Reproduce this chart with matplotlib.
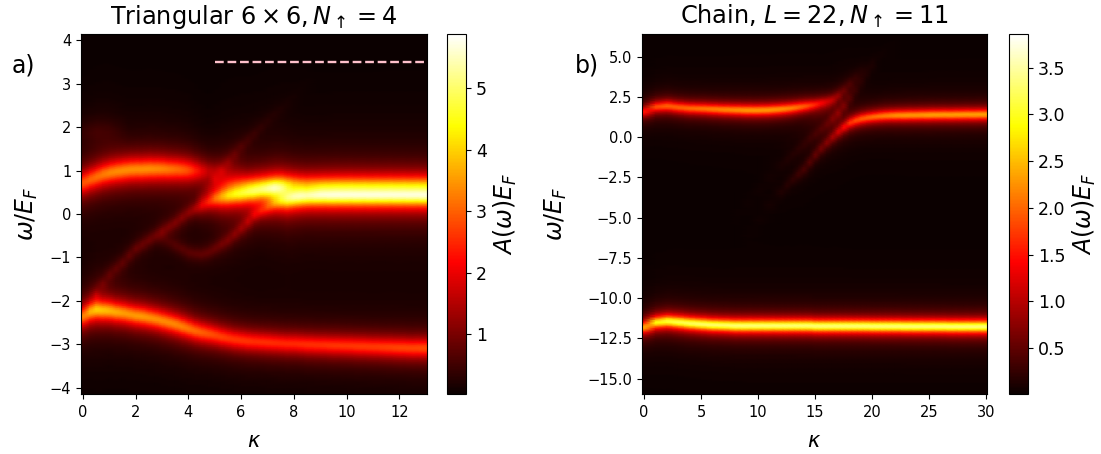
#!/usr/bin/env python3
import numpy as np
import matplotlib
matplotlib.use('Agg')
import matplotlib.pyplot as plt

nan = float('nan')

# The image cells are rebuilt from them with a Lorentzian lineshape in omega,
# so the cells are an approximation of the original, not read one by one.
KAPPA_A = [0, 0.25, 0.5, 0.75, 1, 1.25, 1.5, 1.75, 2, 2.25, 2.5, 2.75, 3, 3.25, 3.5, 3.75, 4, 4.25, 4.5, 4.75,
           5, 5.25, 5.5, 5.75, 6, 6.25, 6.5, 6.75, 7, 7.25, 7.5, 7.75, 8, 8.25, 8.5,
           9, 9.5, 10, 10.5, 11, 11.5, 12, 12.5, 13]

lower_w = [-2.35, -2.25, -2.2, -2.21, -2.22, -2.25, -2.27, -2.3, -2.33, -2.35, -2.38, -2.41, -2.45, -2.49, -2.53,
           -2.58, -2.63, -2.68, -2.72, -2.75, -2.78, -2.82, -2.85, -2.88, -2.9, -2.92, -2.93, -2.94, -2.95, -2.96,
           -2.97, -2.98, -2.98, -2.99, -3.0, -3.01, -3.02, -3.03, -3.04, -3.05, -3.06, -3.07, -3.08, -3.08]
lower_a = [3.3, 3.7, 3.9, 3.85, 3.75, 3.65, 3.55, 3.5, 3.5, 3.5, 3.45, 3.42, 3.4, 3.38, 3.35,
           3.3, 3.2, 3.1, 3.0, 2.9, 2.8, 2.72, 2.65, 2.62, 2.6, 2.58, 2.55, 2.55, 2.55, 2.52,
           2.5, 2.5, 2.5, 2.52, 2.55, 2.55, 2.6, 2.6, 2.65, 2.65, 2.7, 2.75, 2.75, 2.8]

upper_w = [0.72, 0.79, 0.85, 0.91, 0.95, 0.98, 1.0, 1.02, 1.03, 1.03, 1.04, 1.04, 1.04, 1.03, 1.03, 1.02, 1.01,
           1.0, 0.99, 0.99, 0.99, 1.0, 1.0, 1.0, 1.0] + [nan] * 19
upper_a = [2.9, 3.0, 3.1, 3.2, 3.3, 3.35, 3.4, 3.4, 3.4, 3.4, 3.4, 3.35, 3.3, 3.2, 3.1, 3.0, 2.8,
           2.4, 1.9, 1.4, 1.0, 0.7, 0.45, 0.3, 0.15] + [nan] * 19

steep_w = [nan] * 18 + [0.4, 0.6, 0.8, 1.0, 1.2, 1.38, 1.55, 1.7, 1.85, 2.0, 2.15, 2.28, 2.4, 2.55, 2.7, 2.85, 3.0] + [nan] * 9
steep_a = [nan] * 18 + [0.2, 0.35, 0.45, 0.5, 0.5, 0.45, 0.38, 0.32, 0.27, 0.22, 0.18, 0.14, 0.11, 0.08, 0.06, 0.04, 0.03] + [nan] * 9

rising_w = [nan, nan, -1.85, -1.6, -1.4, -1.25, -1.12, -0.95, -0.8, -0.7, -0.6, -0.5, -0.4, -0.3, -0.2, -0.08, 0.03,
            0.12, 0.2, 0.28, 0.35, 0.39, 0.42, 0.45, 0.47, 0.5, 0.52, 0.55, 0.57, 0.59, 0.6, 0.61, 0.62, 0.62] + [nan] * 10
rising_a = [nan, nan, 0.4, 0.45, 0.5, 0.55, 0.6, 0.65, 0.7, 0.72, 0.75, 0.78, 0.8, 0.82, 0.85, 0.9, 0.95,
            1.2, 1.7, 2.2, 2.8, 3.3, 3.7, 3.9, 4.0, 4.1, 4.1, 4.0, 4.0, 3.9, 3.2, 1.8, 0.7, 0.3] + [nan] * 10
rising_g = [0.16] * 18 + [0.18, 0.2, 0.22] + [0.24] * 23

arc_w = [nan] * 12 + [-0.55, -0.64, -0.72, -0.8, -0.88, -0.91, -0.92, -0.88, -0.8, -0.7, -0.6, -0.47, -0.33,
                      -0.18, -0.02, 0.07, 0.15, 0.24, 0.3, 0.34, 0.38, 0.4, 0.41, 0.42, 0.42, 0.42, 0.42, 0.42, 0.42,
                      0.42, 0.42, 0.42]
arc_a = [nan] * 12 + [0.25, 0.35, 0.48, 0.55, 0.6, 0.62, 0.65, 0.68, 0.7, 0.75, 0.8, 0.85, 0.95, 1.1, 1.25, 1.45, 1.7,
                      2.1, 2.8, 3.8, 4.5, 4.65, 4.7, 4.7, 4.7, 4.7, 4.7, 4.7, 4.7, 4.7, 4.7, 4.7]
arc_g = [0.16] * 28 + [0.18, 0.2, 0.22] + [0.24] * 13

top_w = [nan] * 20 + [0.7, 0.7, 0.7, 0.7, 0.7, 0.7, 0.7, 0.7, 0.7, 0.7, 0.72, 0.72, 0.72, 0.7, 0.7,
                      0.68, 0.68, 0.68, 0.68, 0.68, 0.68, 0.68, 0.68, 0.68]
top_a = [nan] * 20 + [0.3, 0.5, 0.8, 0.95, 1.1, 1.15, 1.2, 1.25, 1.3, 1.35, 1.4, 1.5, 1.6, 1.65, 1.7,
                      1.9, 2.0, 2.0, 2.0, 2.0, 2.0, 2.0, 2.0, 2.0]

ghost_w = [1.9, 1.9, 1.9, 1.9, 1.9, 1.9, 1.9] + [nan] * 37
ghost_a = [0.25, 0.3, 0.33, 0.3, 0.25, 0.17, 0.08] + [nan] * 37

KAPPA_B = [0, 1, 2, 3, 4, 5, 6, 7, 8, 9, 10, 11, 12, 12.5, 13, 13.5, 14, 14.5, 15, 15.5, 16, 16.5, 17, 17.5,
           18, 18.5, 19, 19.5, 20, 20.5, 21, 21.5, 22, 23, 24, 25, 26, 27, 28, 29, 30]

deep_w = [-11.8, -11.5, -11.42, -11.48, -11.55, -11.6, -11.65, -11.67, -11.7, -11.7, -11.7, -11.7, -11.7, -11.7,
          -11.7, -11.7, -11.7, -11.7, -11.72, -11.72, -11.72, -11.72, -11.72, -11.72, -11.72, -11.72, -11.72, -11.72,
          -11.73, -11.73, -11.73, -11.73, -11.73, -11.74, -11.74, -11.74, -11.74, -11.75, -11.75, -11.75, -11.75]
deep_a = [2.4, 2.9, 3.1, 3.2, 3.25, 3.3, 3.3, 3.3, 3.35, 3.35, 3.35, 3.35, 3.35, 3.35,
          3.35, 3.35, 3.35, 3.35, 3.35, 3.35, 3.35, 3.35, 3.35, 3.35, 3.35, 3.35, 3.35, 3.35,
          3.35, 3.35, 3.35, 3.35, 3.35, 3.35, 3.35, 3.35, 3.35, 3.35, 3.35, 3.35, 3.35]

left_w = [1.59, 1.88, 1.94, 1.86, 1.8, 1.78, 1.75, 1.72, 1.7, 1.68, 1.68, 1.7, 1.75, 1.78, 1.82, 1.87, 1.92, 1.97,
          2.03, 2.12, 2.22, 2.35, 2.55, 2.85, 3.3, 3.8, 4.3] + [nan] * 14
left_a = [1.55, 1.85, 2.0, 2.0, 2.05, 2.1, 2.15, 2.2, 2.25, 2.3, 2.3, 2.3, 2.25, 2.2, 2.15, 2.05, 1.95, 1.8,
          1.6, 1.35, 1.05, 0.75, 0.45, 0.25, 0.15, 0.08, 0.04] + [nan] * 14

right_w = [nan] * 9 + [-6.1, -5.15, -4.2, -3.4, -3.0, -2.65, -2.3, -2.0, -1.55, -1.1, -0.7, -0.35, 0, 0.33, 0.62, 0.88,
                       1.03, 1.14, 1.21, 1.26, 1.3, 1.33, 1.35, 1.36, 1.37, 1.38, 1.39, 1.4, 1.4, 1.41, 1.41, 1.42]
right_a = [nan] * 9 + [0.02, 0.04, 0.07, 0.12, 0.16, 0.2, 0.28, 0.35, 0.42, 0.5, 0.58, 0.68, 0.85, 1.1, 1.4, 1.7,
                       1.85, 1.95, 2.0, 2.05, 2.1, 2.15, 2.2, 2.25, 2.3, 2.3, 2.35, 2.35, 2.35, 2.35, 2.35, 2.35]

streak1_w = [nan] * 8 + [-4.9, -4.1, -3.3, -2.5, -1.75, -1.4, -1.1, -0.75, -0.45, -0.1, 0.2, 0.5, 0.8, 1.15, 1.5, 1.95,
                         2.45, 2.95, 3.45, 3.9, 4.4] + [nan] * 12
streak1_a = [nan] * 8 + [0.02, 0.03, 0.04, 0.06, 0.08, 0.1, 0.12, 0.15, 0.18, 0.22, 0.27, 0.32, 0.4, 0.55, 0.65, 0.55,
                         0.35, 0.22, 0.14, 0.08, 0.05] + [nan] * 12

streak2_w = [nan] * 12 + [-0.6, -0.3, 0, 0.3, 0.6, 0.9, 1.2, 1.5, 1.85, 2.2, 2.6, 2.95, 3.3, 3.6, 3.9, 4.25, 4.6, 4.95,
                          5.3, 5.6, 5.9] + [nan] * 8
streak2_a = [nan] * 12 + [0.01, 0.02, 0.02, 0.03, 0.04, 0.06, 0.1, 0.15, 0.22, 0.28, 0.3, 0.24, 0.18, 0.12, 0.08, 0.06,
                          0.05, 0.04, 0.03, 0.02, 0.02] + [nan] * 8

BANDS_A = [(lower_w, lower_a, 0.24), (upper_w, upper_a, 0.27), (steep_w, steep_a, 0.16), (rising_w, rising_a, rising_g),
           (arc_w, arc_a, arc_g), (top_w, top_a, 0.24), (ghost_w, ghost_a, 0.3)]
BANDS_B = [(deep_w, deep_a, 0.38), (left_w, left_a, 0.35), (right_w, right_a, 0.35),
           (streak1_w, streak1_a, 0.4), (streak2_w, streak2_a, 0.4)]


def spectrum(kappa, bands, omega):
    """Sum the bands into a (omega, kappa) table, one column per kappa value."""
    z = np.zeros((len(omega), len(kappa)))
    for w, a, g in bands:
        g = np.broadcast_to(g, len(kappa))
        for j in range(len(kappa)):
            if not np.isnan(w[j]):
                z[:, j] += a[j] * g[j]**2 / ((omega - w[j])**2 + g[j]**2)
    # repeat the end columns so the image reaches past the axis edges
    k = np.r_[kappa[0] - 0.5, kappa, kappa[-1] + 0.5]
    z = np.c_[z[:, 0], z, z[:, -1]]
    return k, z


def panel(pos, cpos, kappa, bands, omega, vmin, vmax, title, letter, xticks, xlim, ylim, ypad):
    W, H = 1101, 454
    ax = fig.add_axes([pos[0] / W, 1 - pos[3] / H, (pos[1] - pos[0]) / W, (pos[3] - pos[2]) / H])
    cax = fig.add_axes([cpos[0] / W, 1 - pos[3] / H, (cpos[1] - cpos[0]) / W, (pos[3] - pos[2]) / H])
    k, z = spectrum(kappa, bands, omega)
    mesh = ax.pcolormesh(k, omega, z, cmap='hot', vmin=vmin, vmax=vmax, shading='gouraud')
    ax.set_xlim(*xlim)
    ax.set_ylim(*ylim)
    ax.set_xticks(xticks)
    ax.tick_params(labelsize=10.5)
    ax.tick_params(axis='x', pad=4.5)
    ax.set_xlabel(r'$\kappa$', fontsize=15, labelpad=8)
    ax.set_ylabel(r'$\omega/E_F$', fontsize=17, labelpad=ypad)
    ax.set_title(title, fontsize=17.3, pad=7)
    cbar = fig.colorbar(mesh, cax=cax)
    cbar.ax.tick_params(labelsize=12.5)
    cbar.set_label(r'$A(\omega)E_F$', fontsize=17)
    fig.text(letter[0] / W, 1 - letter[1] / H, letter[2], fontsize=17, va='center')
    return ax


fig = plt.figure(figsize=(11.01, 4.54), dpi=100)

ax_a = panel((81, 427, 34, 394), (447, 466), KAPPA_A, BANDS_A, np.linspace(-4.5, 4.5, 181), 0.03, 5.88,
             r'Triangular $6\times 6, N_\uparrow=4$', (12, 66, 'a)'), [0, 2, 4, 6, 8, 10, 12],
             (-0.07, 13.05), (-4.14, 4.14), 7)
ax_a.plot([5, 13], [3.5, 3.5], color='pink', ls='--', lw=1.7)

panel((642, 987, 34, 394), (1009, 1028), KAPPA_B, BANDS_B, np.linspace(-17, 7, 241), 0.01, 3.86,
      r'Chain, $L=22, N_\uparrow=11$', (575, 66, 'b)'), [0, 5, 10, 15, 20, 25, 30],
      (-0.17, 30.05), (-15.95, 6.4), 13)

plt.savefig('out.png', dpi=100)
